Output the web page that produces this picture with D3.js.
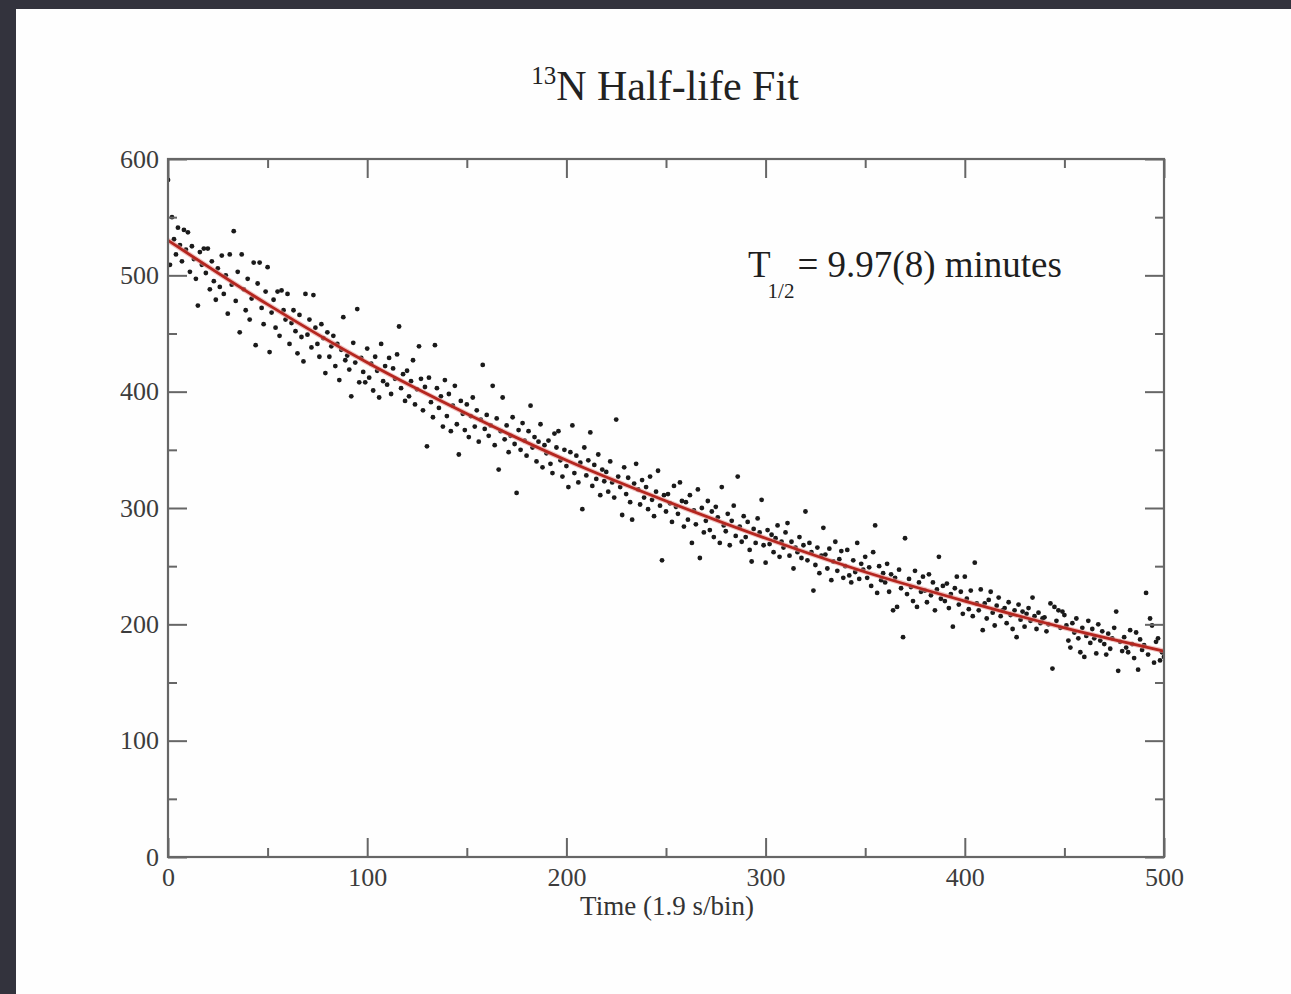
<!DOCTYPE html>
<html>
<head>
<meta charset="utf-8">
<script src="https://cdn.jsdelivr.net/npm/d3@7"></script>
<style>
  html, body { margin: 0; padding: 0; background: #33333d; }
  svg { display: block; }
  .tick text { font-family: "Liberation Serif", "Times New Roman", serif; fill: #3c3c3c; }
  .tick line { stroke: #666; stroke-width: 2; }
</style>
</head>
<body>
<svg id="chart" width="1291" height="994"></svg>
<script>
// axis ticks
const xMajor = [0, 100, 200, 300, 400, 500];
const xMinor = [50, 150, 250, 350, 450];
const yMajor = [0, 100, 200, 300, 400, 500, 600];
const yMinor = [50, 150, 250, 350, 450, 550];

// counts per bin (bin 0 .. 500)
const counts = [
  582, 509, 550, 531, 518, 541, 526, 512, 539, 522,
  537, 503, 525, 514, 497, 474, 520, 509, 523, 502,
  523, 488, 512, 495, 479, 506, 490, 517, 484, 500,
  467, 518, 492, 538, 478, 503, 451, 518, 488, 470,
  497, 462, 480, 511, 440, 493, 511, 472, 458, 486,
  507, 434, 468, 479, 455, 486, 448, 487, 470, 462,
  484, 441, 459, 470, 452, 433, 466, 447, 426, 484,
  449, 462, 438, 483, 455, 441, 430, 458, 446, 416,
  451, 430, 439, 448, 422, 441, 410, 436, 464, 427,
  431, 419, 396, 442, 425, 471, 408, 429, 417, 408,
  437, 412, 424, 401, 430, 418, 395, 441, 409, 422,
  406, 429, 398, 420, 411, 432, 456, 403, 415, 392,
  418, 396, 409, 427, 389, 402, 439, 411, 384, 404,
  353, 412, 391, 378, 440, 403, 386, 396, 370, 410,
  379, 398, 366, 388, 405, 372, 346, 392, 381, 367,
  389, 361, 379, 395, 370, 384, 357, 376, 423, 368,
  380, 362, 371, 405, 354, 377, 333, 366, 395, 359,
  371, 348, 362, 378, 355, 313, 367, 350, 373, 358,
  345, 366, 388, 352, 361, 340, 357, 372, 335, 354,
  347, 358, 338, 330, 364, 352, 366, 341, 327, 350,
  336, 318, 348, 371, 330, 345, 322, 339, 299, 352,
  328, 341, 365, 319, 337, 325, 346, 311, 333, 323,
  331, 314, 340, 322, 309, 376, 327, 318, 294, 335,
  312, 326, 305, 290, 321, 338, 316, 303, 324, 309,
  318, 299, 327, 307, 293, 314, 332, 302, 255, 311,
  297, 312, 304, 288, 319, 301, 295, 322, 306, 284,
  305, 290, 311, 270, 298, 286, 316, 257, 300, 279,
  289, 306, 281, 297, 275, 301, 292, 270, 318, 285,
  280, 295, 268, 289, 302, 276, 327, 284, 271, 293,
  275, 288, 264, 254, 282, 270, 291, 279, 307, 268,
  253, 281, 269, 277, 262, 274, 285, 258, 271, 266,
  279, 287, 259, 271, 248, 266, 262, 275, 257, 268,
  297, 255, 270, 262, 229, 251, 266, 244, 259, 283,
  260, 248, 265, 238, 254, 271, 246, 256, 263, 240,
  250, 264, 242, 236, 255, 245, 270, 239, 252, 247,
  258, 240, 249, 233, 262, 285, 227, 250, 238, 244,
  236, 252, 228, 243, 212, 240, 215, 247, 231, 189,
  274, 226, 239, 232, 220, 246, 215, 236, 228, 241,
  229, 219, 243, 225, 236, 212, 230, 258, 222, 233,
  220, 235, 214, 226, 198, 231, 241, 217, 228, 209,
  241, 222, 213, 229, 207, 253, 218, 212, 230, 195,
  218, 205, 221, 228, 210, 199, 216, 223, 207, 212,
  214, 201, 219, 208, 196, 212, 189, 217, 204, 211,
  198, 209, 214, 203, 223, 207, 196, 210, 201, 205,
  206, 194, 200, 218, 162, 215, 203, 212, 197, 211,
  208, 199, 186, 180, 201, 193, 205, 188, 176, 197,
  172, 190, 203, 184, 196, 188, 175, 200, 186, 194,
  183, 174, 192, 179, 188, 197, 211, 160, 185, 177,
  189, 180, 176, 195, 183, 171, 193, 161, 187, 178,
  182, 227, 174, 205, 199, 167, 185, 188, 169, 176,
  172
];

// fitted curve, read at every 50 bins
const fitX = [0, 50, 100, 150, 200, 250, 300, 350, 400, 450, 500];
const fitY = [530, 475, 425, 381, 341, 306, 274, 245, 220, 197, 177];

const svg = d3.select("#chart");

// paper
svg.append("rect")
    .attr("x", 16).attr("y", 9)
    .attr("width", 1291 - 16).attr("height", 994 - 9)
    .attr("fill", "#fefefe");

const plotLeft = 168, plotRight = 1164, plotTop = 159, plotBottom = 857;

const x = d3.scaleLinear().domain([0, 500]).range([plotLeft, plotRight]);
const y = d3.scaleLinear().domain([0, 600]).range([plotBottom, plotTop]);

const g = svg.append("g");

// clip for marks
svg.append("defs").append("clipPath").attr("id", "plot")
    .append("rect")
    .attr("x", plotLeft).attr("y", plotTop)
    .attr("width", plotRight - plotLeft).attr("height", plotBottom - plotTop);

// data points
g.append("g")
    .attr("clip-path", "url(#plot)")
    .selectAll("circle")
    .data(counts)
    .enter()
    .append("circle")
    .attr("cx", (d, i) => x(i))
    .attr("cy", d => y(d))
    .attr("r", 2.4)
    .attr("fill", "#1a1a1a");

// fit line
const line = d3.line()
    .x((d, i) => x(fitX[i]))
    .y(d => y(d))
    .curve(d3.curveMonotoneX);

g.append("path")
    .datum(fitY)
    .attr("d", line)
    .attr("fill", "none")
    .attr("stroke", "#e79a96")
    .attr("stroke-width", 5)
    .attr("opacity", 0.6);

g.append("path")
    .datum(fitY)
    .attr("d", line)
    .attr("fill", "none")
    .attr("stroke", "#b5261f")
    .attr("stroke-width", 2.8);

// ticks, pointing inward on all sides
function addAxis(axis, tx, ty, size, vals, labels, pad) {
    const a = g.append("g")
        .attr("transform", `translate(${tx},${ty})`)
        .call(axis.tickValues(vals).tickSize(size).tickPadding(pad)
            .tickFormat(labels ? d3.format("d") : ""));
    a.select(".domain").remove();
    a.selectAll("text").style("font-size", "26px");
    return a;
}

addAxis(d3.axisBottom(x), 0, plotBottom, -19, xMajor, true, 11);
addAxis(d3.axisBottom(x), 0, plotBottom, -9, xMinor, false, 0);
addAxis(d3.axisTop(x), 0, plotTop, -19, xMajor, false, 0);
addAxis(d3.axisTop(x), 0, plotTop, -9, xMinor, false, 0);
addAxis(d3.axisLeft(y), plotLeft, 0, -19, yMajor, true, 9);
addAxis(d3.axisLeft(y), plotLeft, 0, -9, yMinor, false, 0);
addAxis(d3.axisRight(y), plotRight, 0, -19, yMajor, false, 0);
addAxis(d3.axisRight(y), plotRight, 0, -9, yMinor, false, 0);

// frame
g.append("rect")
    .attr("x", plotLeft).attr("y", plotTop)
    .attr("width", plotRight - plotLeft).attr("height", plotBottom - plotTop)
    .attr("fill", "none")
    .attr("stroke", "#666")
    .attr("stroke-width", 2.2);

const serif = "'Liberation Serif', 'Times New Roman', serif";

// title
const title = svg.append("text")
    .attr("x", 665).attr("y", 100)
    .attr("text-anchor", "middle")
    .attr("font-family", serif)
    .attr("fill", "#222");
title.append("tspan").attr("font-size", 25).attr("dy", -16).text("13");
title.append("tspan").attr("font-size", 42).attr("dy", 16).text("N Half-life Fit");

// x axis title
svg.append("text")
    .attr("x", 667).attr("y", 915)
    .attr("text-anchor", "middle")
    .attr("font-family", serif)
    .attr("font-size", 27)
    .attr("fill", "#333")
    .text("Time (1.9 s/bin)");

// half-life annotation
const note = svg.append("text")
    .attr("x", 748).attr("y", 277)
    .attr("font-family", serif)
    .attr("fill", "#1e1e1e");
note.append("tspan").attr("font-size", 37).text("T");
note.append("tspan").attr("font-size", 21).attr("dy", 21).attr("dx", -3).text("1/2");
note.append("tspan").attr("font-size", 37).attr("dy", -21).attr("dx", 3).text("= 9.97(8) minutes");
</script>
</body>
</html>
